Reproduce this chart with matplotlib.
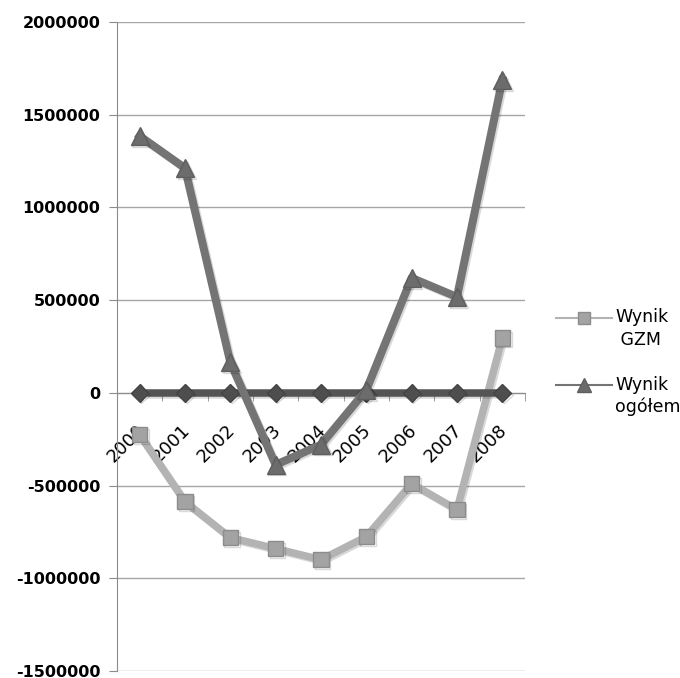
import numpy as np
import matplotlib
matplotlib.use("Agg")
import matplotlib.pyplot as plt
import matplotlib.patheffects as pe
import matplotlib.transforms as mtransforms
from matplotlib.lines import Line2D

# lata i wyniki finansowe
lata = ["2000", "2001", "2002", "2003", "2004", "2005", "2006", "2007", "2008"]
wynik_gzm = [-226000, -587000, -781000, -840000, -900000, -776000, -490000, -630000, 296000]
wynik_ogolem = [1385000, 1212000, 165000, -388000, -280000, 15000, 620000, 517000, 1686000]
zero = [0, 0, 0, 0, 0, 0, 0, 0, 0]
y_ticks = [-1500000, -1000000, -500000, 0, 500000, 1000000, 1500000, 2000000]

shadow = [pe.SimpleLineShadow(offset=(1.2, -1.2), alpha=0.15), pe.Normal()]

styl_gzm = dict(color="#b3b3b3", lw=5.4, marker="s", ms=11, mfc="#a3a3a3",
                mec="#8c8c8c", mew=1.0)
styl_ogolem = dict(color="#747474", lw=5.8, marker="^", ms=13, mfc="#6c6c6c",
                   mec="#5e5e5e", mew=1.0)
styl_zero = dict(color="#545454", lw=5.4, marker="D", ms=9, mfc="#4e4e4e",
                 mec="#444444", mew=1.0)

fig = plt.figure(figsize=(6.8, 6.78), dpi=100)
ax = fig.add_axes([0.172, 0.0103, 0.6, 0.9573])

x = np.arange(len(lata))
ax.plot(x, wynik_gzm, path_effects=shadow, zorder=3, **styl_gzm)
ax.plot(x, zero, path_effects=shadow, zorder=4, **styl_zero)
ax.plot(x, wynik_ogolem, path_effects=shadow, zorder=5, **styl_ogolem)

ax.set_xlim(-0.5, len(lata) - 0.5)
ax.set_ylim(-1500000, 2000000)

ax.set_yticks(y_ticks)
ax.set_yticklabels([str(v) for v in y_ticks], fontsize=11.5, fontweight="bold")
ax.yaxis.grid(True, color="#a6a6a6", lw=1.0)
ax.set_axisbelow(True)
ax.tick_params(axis="y", direction="out", length=6, color="#8c8c8c", pad=6)

# oś X przechodzi przez zero
ax.spines["bottom"].set_position(("data", 0))
ax.spines["bottom"].set_color("#8c8c8c")
ax.spines["left"].set_color("#8c8c8c")
ax.spines["top"].set_visible(False)
ax.spines["right"].set_visible(False)

ax.set_xticks(x)
ax.set_xticklabels(lata, fontsize=13, rotation=45, ha="right", va="top",
                   rotation_mode="anchor")
ax.tick_params(axis="x", which="major", length=0, pad=20)
przesun = mtransforms.ScaledTranslation(-4 / 100, 0, fig.dpi_scale_trans)
for lbl in ax.get_xticklabels():
    lbl.set_transform(lbl.get_transform() + przesun)
ax.set_xticks(np.arange(len(lata) + 1) - 0.5, minor=True)
ax.tick_params(axis="x", which="minor", direction="out", length=6, color="#8c8c8c")

# legenda po prawej stronie
for (lx, ly), styl, tekst in [((0.818, 0.531), styl_gzm, "Wynik\n GZM"),
                              ((0.818, 0.432), styl_ogolem, "Wynik\nogółem")]:
    fig.add_artist(Line2D([lx, lx + 0.041, lx + 0.082], [ly, ly, ly],
                          transform=fig.transFigure, lw=1.5, color=styl["color"],
                          marker=styl["marker"], markevery=[1],
                          ms=styl["ms"] * 0.8, mfc=styl["mfc"], mec=styl["mec"]))
    fig.text(lx + 0.087, ly + 0.014, tekst, fontsize=12.5, va="top",
             ha="left", linespacing=1.3, transform=fig.transFigure)

fig.savefig("out.png", dpi=100)
